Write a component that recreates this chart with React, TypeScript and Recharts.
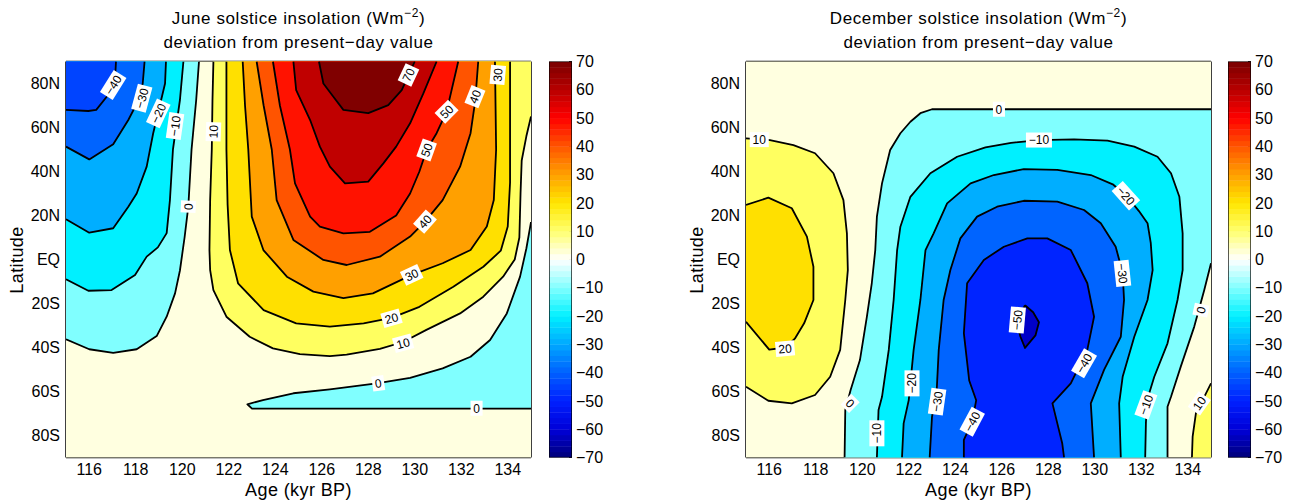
import React from 'react';
import { ScatterChart, Scatter, XAxis, YAxis } from 'recharts';

type Pair = [number, number];
type Band = { lines: Pair[][]; close: Pair[]; color: string };
type ContourLabel = { age: number; lat: number; text: string; angle: number };

const FONT = '"Liberation Sans", Arial, Helvetica, sans-serif';

// axes
const ageDomain: Pair = [115, 135];
const latDomain: Pair = [-90, 90];
const ageTicks = [116, 118, 120, 122, 124, 126, 128, 130, 132, 134];
const latTicks = [-80, -60, -40, -20, 0, 20, 40, 60, 80];
const scaleTicks = [-70, -60, -50, -40, -30, -20, -10, 0, 10, 20, 30, 40, 50, 60, 70];

// June solstice contours, [age kyr BP, latitude]
const juneZeroWest: Pair[] = [[120.72, 90], [120.6, 72.5], [120.4, 50], [120.26, 24], [120.1, 10], [120.02, 4], [119.9, -5], [119.69, -15.4], [119.33, -26], [118.9, -34.8], [118.04, -40.8], [117.03, -42.4], [116.0, -40.8], [115, -36.3]];
const juneZeroSouth: Pair[] = [[135, -67.8], [123.0, -67.8], [122.8, -65.8], [123.47, -63.9], [124.78, -60.8], [126.35, -59], [128.36, -56.3], [129.8, -53.8], [131.2, -49.5], [132.4, -44.2], [133.24, -36.6], [133.96, -24.5], [134.53, -7.8], [134.8, 5], [135, 17]];
const juneM10: Pair[] = [[120.05, 90], [119.9, 72.5], [119.6, 50], [119.47, 27], [119.33, 12], [118.95, 5.5], [118.47, 1.3], [117.97, -7], [116.96, -13.9], [115.96, -14.2], [115, -9]];
const juneM20: Pair[] = [[119.3, 90], [119.26, 80], [118.75, 57.4], [118.47, 42.2], [118.04, 30], [117.68, 24], [117.03, 14.2], [116.0, 12.2], [115, 18.3]];
const juneM30: Pair[] = [[118.38, 90], [118.3, 80], [118.1, 72], [117.68, 63.4], [117.03, 52.4], [116.0, 45.5], [115, 51.3]];
const juneM40: Pair[] = [[117.15, 90], [117.1, 80], [116.75, 74], [116.3, 68], [115.96, 67.5], [115, 68]];
const juneP10: Pair[] = [[121.34, 90], [121.3, 72], [121.27, 50], [121.2, 27], [121.17, 4.3], [121.2, -4.8], [121.34, -13.9], [121.9, -26], [122.9, -35.1], [123.9, -40.4], [125.06, -43], [126.35, -43.9], [127.07, -43.2], [128.5, -40.6], [129.5, -37.5], [130.5, -32], [131.95, -24.5], [132.95, -16.9], [133.8, -7.8], [134.3, 0], [134.5, 10], [134.55, 30], [134.6, 45], [134.8, 56], [135, 65]];
const juneP20: Pair[] = [[121.9, 90], [121.9, 70], [121.9, 50], [121.95, 25], [122.05, 4.3], [122.4, -10.8], [123.5, -23], [124.9, -29], [126.35, -30.5], [127.8, -29], [129.0, -26.5], [130.2, -21.5], [131.66, -12.4], [132.95, -3.3], [133.7, 4], [134.0, 15], [134.1, 35], [134.1, 60], [134.1, 90]];
const juneP30: Pair[] = [[122.6, 90], [122.7, 70], [122.84, 50], [122.99, 19.5], [123.49, 4.3], [124.5, -7.8], [125.64, -14.6], [126.93, -17.6], [128.2, -15.4], [129.87, -7], [131.2, -1.7], [132.4, 4.3], [133.1, 15], [133.4, 27], [133.5, 50], [133.45, 90]];
const juneP40: Pair[] = [[123.2, 90], [123.5, 70], [123.85, 50], [124.06, 27], [124.78, 8.9], [126.07, -0.2], [127.07, -2.5], [128.5, 1.3], [129.8, 10.4], [130.44, 17.2], [131.2, 27], [131.95, 42.2], [132.4, 57.4], [132.6, 72], [132.73, 90]];
const juneP50: Pair[] = [[123.9, 90], [124.2, 70], [124.63, 50], [124.85, 34.6], [125.5, 19.5], [125.92, 14.9], [126.93, 11.9], [128.07, 12.6], [129.2, 20], [129.8, 30], [130.2, 40], [130.51, 49.8], [130.94, 57.4], [131.37, 67.2], [131.87, 90]];
const juneP60: Pair[] = [[124.78, 90], [124.9, 77], [125.5, 63.4], [125.92, 51.3], [126.35, 42.2], [127.0, 34.6], [128.0, 35.4], [128.65, 43.7], [129.2, 51.3], [129.8, 61.9], [130.37, 75.5], [130.94, 90]];
const juneP70: Pair[] = [[125.88, 90], [126.07, 80], [126.5, 74], [126.93, 68], [128.0, 66.5], [128.86, 70.2], [129.44, 77], [130.0, 90]];

const juneLabels: ContourLabel[] = [
  { age: 117.03, lat: 79.3, text: '\u221240', angle: -58 },
  { age: 118.26, lat: 73.3, text: '\u221230', angle: -75 },
  { age: 118.97, lat: 66.4, text: '\u221220', angle: -65 },
  { age: 119.69, lat: 60.7, text: '\u221210', angle: -82 },
  { age: 121.34, lat: 58.1, text: '10', angle: -88 },
  { age: 120.26, lat: 24, text: '0', angle: -87 },
  { age: 129.73, lat: 83.9, text: '70', angle: -65 },
  { age: 131.37, lat: 67.2, text: '50', angle: -45 },
  { age: 132.59, lat: 74, text: '40', angle: -68 },
  { age: 133.57, lat: 83.9, text: '30', angle: -85 },
  { age: 130.51, lat: 49.8, text: '50', angle: -70 },
  { age: 130.44, lat: 17.2, text: '40', angle: -48 },
  { age: 129.87, lat: -7, text: '30', angle: -25 },
  { age: 129.0, lat: -26.7, text: '20', angle: -16 },
  { age: 129.5, lat: -38.1, text: '10', angle: -15 },
  { age: 128.43, lat: -56.3, text: '0', angle: -8 },
  { age: 132.66, lat: -67.6, text: '0', angle: 0 },
];

// December solstice contours, [age kyr BP, latitude]
const decZeroWest: Pair[] = [[119.24, -90], [119.27, -68.4], [119.5, -59.3], [119.9, -45.7], [120.2, -26], [120.41, -10.8], [120.56, 4.3], [120.63, 19.5], [120.85, 34.6], [121.2, 49.8], [121.64, 57.4], [122.07, 62.6], [122.5, 66.5], [123.0, 68.3], [135, 68.3]];
const decZeroEast: Pair[] = [[135, -1.7], [134.71, -13.9], [134.28, -30.5], [133.7, -48.7], [133.28, -62.4], [133.13, -66.9], [133.13, -90]];
const decM10: Pair[] = [[120.63, -90], [120.7, -68.4], [120.85, -62.4], [121.14, -41.1], [121.35, -18.4], [121.5, 4.3], [121.64, 14.9], [122.07, 28.5], [122.93, 39.2], [124.08, 46.7], [125.3, 51], [126.4, 53], [127.6, 54.3], [129.11, 54.6], [130.55, 54], [131.7, 51.3], [132.7, 46.7], [133.28, 39.2], [133.64, 28.5], [133.78, 11.9], [133.78, -4.8], [133.56, -18.4], [133.13, -38.1], [132.56, -53.3], [132.25, -64], [132.2, -74.5], [132.17, -90]];
const decM20: Pair[] = [[121.71, -90], [121.78, -74.5], [122.0, -63.9], [122.21, -41.1], [122.5, -18.4], [122.72, 4.3], [123.07, 11.9], [123.65, 25.5], [124.66, 34.6], [125.66, 38.4], [126.95, 41.1], [128.39, 40.7], [129.83, 38.4], [130.8, 34], [131.4, 28.5], [131.9, 22], [132.27, 16.5], [132.41, 7.4], [132.49, -4.8], [132.27, -18.4], [131.7, -35.1], [131.2, -53.3], [131.05, -65.4], [131.12, -90]];
const decM30: Pair[] = [[122.9, -90], [123.0, -71.5], [123.2, -60], [123.29, -41.1], [123.5, -18.4], [123.79, -4.8], [124.22, 9.6], [124.94, 19.5], [125.8, 24], [126.95, 26.7], [128.39, 26.3], [129.54, 22.5], [130.26, 16.5], [130.9, 5.8], [131.2, -6], [131.26, -18.4], [131.12, -35.1], [130.4, -50.2], [129.83, -65.4], [129.97, -90]];
const decM40: Pair[] = [[124.37, -90], [124.37, -82], [124.73, -73.7], [124.9, -64], [124.6, -55], [124.37, -33.5], [124.51, -10.8], [125.23, -0.2], [126.09, 5.8], [127.1, 9.6], [127.96, 9.6], [128.97, 4.3], [129.68, -10.8], [129.97, -26], [129.68, -41.1], [128.97, -56.3], [128.18, -65.4], [128.39, -74.5], [128.6, -83.5], [128.68, -90]];
const decM50: Pair[] = [[127.0, -20.8], [127.35, -24], [127.6, -28.5], [127.45, -34.5], [127.0, -40.2], [126.8, -35], [126.68, -30], [126.8, -25], [127.0, -20.8]];
const decP10West: Pair[] = [[115, 55.1], [116.03, 54.3], [117.04, 52], [117.97, 48.3], [118.76, 39.2], [119.19, 27], [119.34, 11.9], [119.38, -4.8], [119.27, -18.4], [119.05, -41.1], [118.62, -53.3], [117.97, -61.6], [116.97, -65.4], [115.96, -64.2], [115, -57.8]];
const decP10East: Pair[] = [[135, -56.3], [134.64, -63.9], [134.35, -69.9], [134.21, -80.5], [134.18, -90]];
const decP20: Pair[] = [[115, 24.8], [115.96, 28.1], [116.97, 23.3], [117.62, 10.4], [117.9, -3.3], [117.9, -18.4], [117.5, -29], [117.1, -36], [116.7, -40], [116.0, -41], [115, -28.3]];

const decLabels: ContourLabel[] = [
  { age: 125.88, lat: 68.3, text: '0', angle: 0 },
  { age: 115.57, lat: 54.5, text: '10', angle: 0 },
  { age: 127.6, lat: 54.3, text: '\u221210', angle: 0 },
  { age: 131.34, lat: 29, text: '\u221220', angle: 48 },
  { age: 116.68, lat: -40.5, text: '20', angle: -5 },
  { age: 119.48, lat: -65.4, text: '0', angle: 45 },
  { age: 120.63, lat: -79, text: '\u221210', angle: -90 },
  { age: 122.14, lat: -56.3, text: '\u221220', angle: -90 },
  { age: 123.22, lat: -64.6, text: '\u221230', angle: -82 },
  { age: 124.73, lat: -73.7, text: '\u221240', angle: -62 },
  { age: 126.67, lat: -27.5, text: '\u221250', angle: -85 },
  { age: 129.54, lat: -47.2, text: '\u221240', angle: -60 },
  { age: 131.19, lat: -6.3, text: '\u221230', angle: 84 },
  { age: 134.57, lat: -23, text: '0', angle: -78 },
  { age: 132.2, lat: -66.1, text: '\u221210', angle: -70 },
  { age: 134.5, lat: -65.4, text: '10', angle: -55 },
];

// fill colours per contour interval
const CREAM = '#ffffe0';
const juneBands: Band[] = [
  { lines: [juneZeroWest], close: [[115, 90]], color: '#80ffff' },
  { lines: [juneZeroSouth], close: [], color: '#80ffff' },
  { lines: [juneM10], close: [[115, 90]], color: '#00f0ff' },
  { lines: [juneM20], close: [[115, 90]], color: '#00aeff' },
  { lines: [juneM30], close: [[115, 90]], color: '#0064ff' },
  { lines: [juneM40], close: [[115, 90]], color: '#0044ff' },
  { lines: [juneP10], close: [[135, 90]], color: '#ffff60' },
  { lines: [juneP20], close: [], color: '#ffe000' },
  { lines: [juneP30], close: [], color: '#ffa000' },
  { lines: [juneP40], close: [], color: '#ff5400' },
  { lines: [juneP50], close: [], color: '#ff1200' },
  { lines: [juneP60], close: [], color: '#c00000' },
  { lines: [juneP70], close: [], color: '#800000' },
];
const decBands: Band[] = [
  { lines: [decP10West], close: [], color: '#ffff60' },
  { lines: [decP10East], close: [[135, -90]], color: '#ffff60' },
  { lines: [decP20], close: [], color: '#ffe000' },
  { lines: [decZeroWest, decZeroEast], close: [], color: '#80ffff' },
  { lines: [decM10], close: [], color: '#00f0ff' },
  { lines: [decM20], close: [], color: '#00aeff' },
  { lines: [decM30], close: [], color: '#0064ff' },
  { lines: [decM40], close: [], color: '#0024ff' },
  { lines: [decM50], close: [], color: '#0000c8' },
];

// colour scale anchors for the colorbar
const scaleStops: [number, string][] = [
  [-70, '#00007a'], [-60, '#0000d8'], [-50, '#0020ff'], [-40, '#0060ff'], [-30, '#00a8ff'],
  [-20, '#00f0ff'], [-10, '#80ffff'], [0, '#ffffff'], [10, '#ffff70'], [20, '#ffe600'],
  [30, '#ffa000'], [40, '#ff5500'], [50, '#ff0000'], [60, '#b80000'], [70, '#7a0000'],
];

const hex = (c: string) => [1, 3, 5].map((i) => parseInt(c.slice(i, i + 2), 16));
const scaleColor = (v: number) => {
  for (let i = 1; i < scaleStops.length; i++) {
    const [v0, c0] = scaleStops[i - 1];
    const [v1, c1] = scaleStops[i];
    if (v <= v1) {
      const t = (v - v0) / (v1 - v0);
      const a = hex(c0);
      const b = hex(c1);
      return `rgb(${a.map((x, k) => Math.round(x + (b[k] - x) * t)).join(',')})`;
    }
  }
  return scaleStops[scaleStops.length - 1][1];
};

const toPoints = (pairs: Pair[]) => pairs.map(([age, lat]) => ({ age, lat }));
type XY = { x: number; y: number };
const pathOf = (pts: XY[] = [], closed: boolean) =>
  pts.map((p, i) => `${i ? 'L' : 'M'}${p.x.toFixed(2)},${p.y.toFixed(2)}`).join(' ') + (closed ? ' Z' : '');

const noDot = () => <g />;
const fillWith = (color: string) => (p: any) => (
  <path d={pathOf(p.points, true)} fill={color} stroke={color} strokeWidth={0.6} />
);
const contourStroke = (p: any) => (
  <path d={pathOf(p.points, false)} fill="none" stroke="#000" strokeWidth={1.8} strokeLinejoin="round" />
);

const LabelShape = (props: any) => {
  const { cx, cy, payload } = props;
  const w = payload.text.length * 7 + 5;
  return (
    <g transform={`translate(${cx},${cy}) rotate(${payload.angle})`}>
      <rect x={-w / 2} y={-7.5} width={w} height={15} fill="#fff" />
      <text x={0} y={0} dy="0.36em" textAnchor="middle" fontSize={12} fontFamily={FONT} fill="#000">
        {payload.text}
      </text>
    </g>
  );
};

const latLabel = (v: number) => (v === 0 ? 'EQ' : v > 0 ? `${v}N` : `${-v}S`);
const signed = (v: number) => (v < 0 ? `\u2212${-v}` : `${v}`);

const axisLine = { stroke: '#000', strokeWidth: 1.5 };
const tickStyle = { fill: '#000', fontSize: 16, fontFamily: FONT };

const ContourPanel = ({ bands, labels }: { bands: Band[]; labels: ContourLabel[] }) => {
  const frame: Pair[] = [
    [ageDomain[0], latDomain[0]],
    [ageDomain[1], latDomain[0]],
    [ageDomain[1], latDomain[1]],
    [ageDomain[0], latDomain[1]],
  ];
  return (
    <ScatterChart width={545} height={502} margin={{ top: 61.5, right: 14, bottom: 0, left: 0 }}>
      <Scatter data={toPoints(frame)} line={fillWith(CREAM)} shape={noDot} isAnimationActive={false} />
      {bands.map((b, i) => (
        <Scatter
          key={`fill-${i}`}
          data={toPoints([...b.lines.flat(), ...b.close])}
          line={fillWith(b.color)}
          shape={noDot}
          isAnimationActive={false}
        />
      ))}
      {bands.flatMap((b, i) =>
        b.lines.map((l, j) => (
          <Scatter
            key={`line-${i}-${j}`}
            data={toPoints(l)}
            line={contourStroke}
            shape={noDot}
            isAnimationActive={false}
          />
        ))
      )}
      <Scatter data={labels} shape={LabelShape} isAnimationActive={false} />
      <XAxis
        type="number"
        dataKey="age"
        domain={ageDomain}
        ticks={ageTicks}
        interval={0}
        allowDataOverflow
        height={44.5}
        tickSize={-5}
        tickMargin={11}
        axisLine={axisLine}
        tickLine={{ stroke: '#000' }}
        tick={tickStyle}
      />
      <XAxis
        xAxisId="top"
        orientation="top"
        mirror
        type="number"
        dataKey="age"
        domain={ageDomain}
        ticks={ageTicks}
        interval={0}
        allowDataOverflow
        height={10}
        tickSize={5}
        axisLine={axisLine}
        tickLine={{ stroke: '#000' }}
        tick={false}
      />
      <YAxis
        type="number"
        dataKey="lat"
        domain={latDomain}
        ticks={latTicks}
        interval={0}
        allowDataOverflow
        width={66}
        tickSize={-5}
        tickMargin={11}
        tickFormatter={latLabel}
        axisLine={axisLine}
        tickLine={{ stroke: '#000' }}
        tick={tickStyle}
      />
      <YAxis
        yAxisId="right"
        orientation="right"
        mirror
        type="number"
        dataKey="lat"
        domain={latDomain}
        ticks={latTicks}
        interval={0}
        allowDataOverflow
        width={10}
        tickSize={5}
        axisLine={axisLine}
        tickLine={{ stroke: '#000' }}
        tick={false}
      />
    </ScatterChart>
  );
};

const ColorBar = () => {
  const ends = [
    { x: 0, v: scaleTicks[0] },
    { x: 1, v: scaleTicks[scaleTicks.length - 1] },
  ];
  const steps = 70;
  const drawBar = (p: any) => {
    const pts: XY[] = p.points || [];
    if (pts.length < 2) return <g />;
    const [lo, hi] = pts;
    const h = (lo.y - hi.y) / steps;
    const span = ends[1].v - ends[0].v;
    return (
      <g>
        {Array.from({ length: steps }, (_, i) => (
          <rect
            key={i}
            x={lo.x}
            y={lo.y - (i + 1) * h}
            width={hi.x - lo.x}
            height={h + 0.4}
            fill={scaleColor(ends[0].v + ((i + 0.5) * span) / steps)}
          />
        ))}
        <rect x={lo.x} y={hi.y} width={hi.x - lo.x} height={lo.y - hi.y} fill="none" stroke="#000" strokeWidth={1.3} />
      </g>
    );
  };
  return (
    <ScatterChart width={63} height={502} margin={{ top: 61.5, right: 0, bottom: 44.5, left: 0 }}>
      <Scatter data={ends} line={drawBar} shape={noDot} isAnimationActive={false} />
      <XAxis type="number" dataKey="x" domain={[0, 1]} hide allowDataOverflow />
      <YAxis
        yAxisId="in"
        orientation="left"
        mirror
        type="number"
        dataKey="v"
        domain={[scaleTicks[0], scaleTicks[scaleTicks.length - 1]]}
        ticks={scaleTicks}
        interval={0}
        allowDataOverflow
        width={10}
        tickSize={3}
        axisLine={false}
        tickLine={{ stroke: '#222' }}
        tick={false}
      />
      <YAxis
        orientation="right"
        type="number"
        dataKey="v"
        domain={[scaleTicks[0], scaleTicks[scaleTicks.length - 1]]}
        ticks={scaleTicks}
        interval={0}
        allowDataOverflow
        width={40}
        tickSize={-3}
        tickMargin={7}
        tickFormatter={signed}
        axisLine={false}
        tickLine={{ stroke: '#222' }}
        tick={tickStyle}
      />
    </ScatterChart>
  );
};

const textBase: React.CSSProperties = {
  position: 'absolute',
  fontFamily: FONT,
  color: '#000',
  textAlign: 'center',
  whiteSpace: 'nowrap',
};

const Titles = ({ left, season }: { left: number; season: string }) => (
  <>
    <div style={{ ...textBase, left, top: 7, width: 465, fontSize: 17, lineHeight: '24px', letterSpacing: 0.6 }}>
      {season} solstice insolation (Wm<sup style={{ fontSize: 12, lineHeight: 0 }}>{'\u22122'}</sup>)
      <br />
      deviation from present{'\u2212'}day value
    </div>
    <div style={{ ...textBase, left, top: 479, width: 465, fontSize: 18, lineHeight: '22px', letterSpacing: 0.4 }}>
      Age (kyr BP)
    </div>
    <div
      style={{
        ...textBase,
        left: left - 149,
        top: 249,
        width: 200,
        fontSize: 18,
        lineHeight: '22px',
        letterSpacing: 0.4,
        transform: 'rotate(-90deg)',
      }}
    >
      Latitude
    </div>
  </>
);

export default function App() {
  return (
    <div style={{ position: 'absolute', left: 0, top: 0, width: 1293, height: 502, background: '#fff', overflow: 'hidden' }}>
      <div style={{ position: 'absolute', left: 0, top: 0 }}>
        <ContourPanel bands={juneBands} labels={juneLabels} />
      </div>
      <div style={{ position: 'absolute', left: 549, top: 0 }}>
        <ColorBar />
      </div>
      <Titles left={66} season="June" />
      <div style={{ position: 'absolute', left: 680, top: 0 }}>
        <ContourPanel bands={decBands} labels={decLabels} />
      </div>
      <div style={{ position: 'absolute', left: 1228, top: 0 }}>
        <ColorBar />
      </div>
      <Titles left={746} season="December" />
    </div>
  );
}
